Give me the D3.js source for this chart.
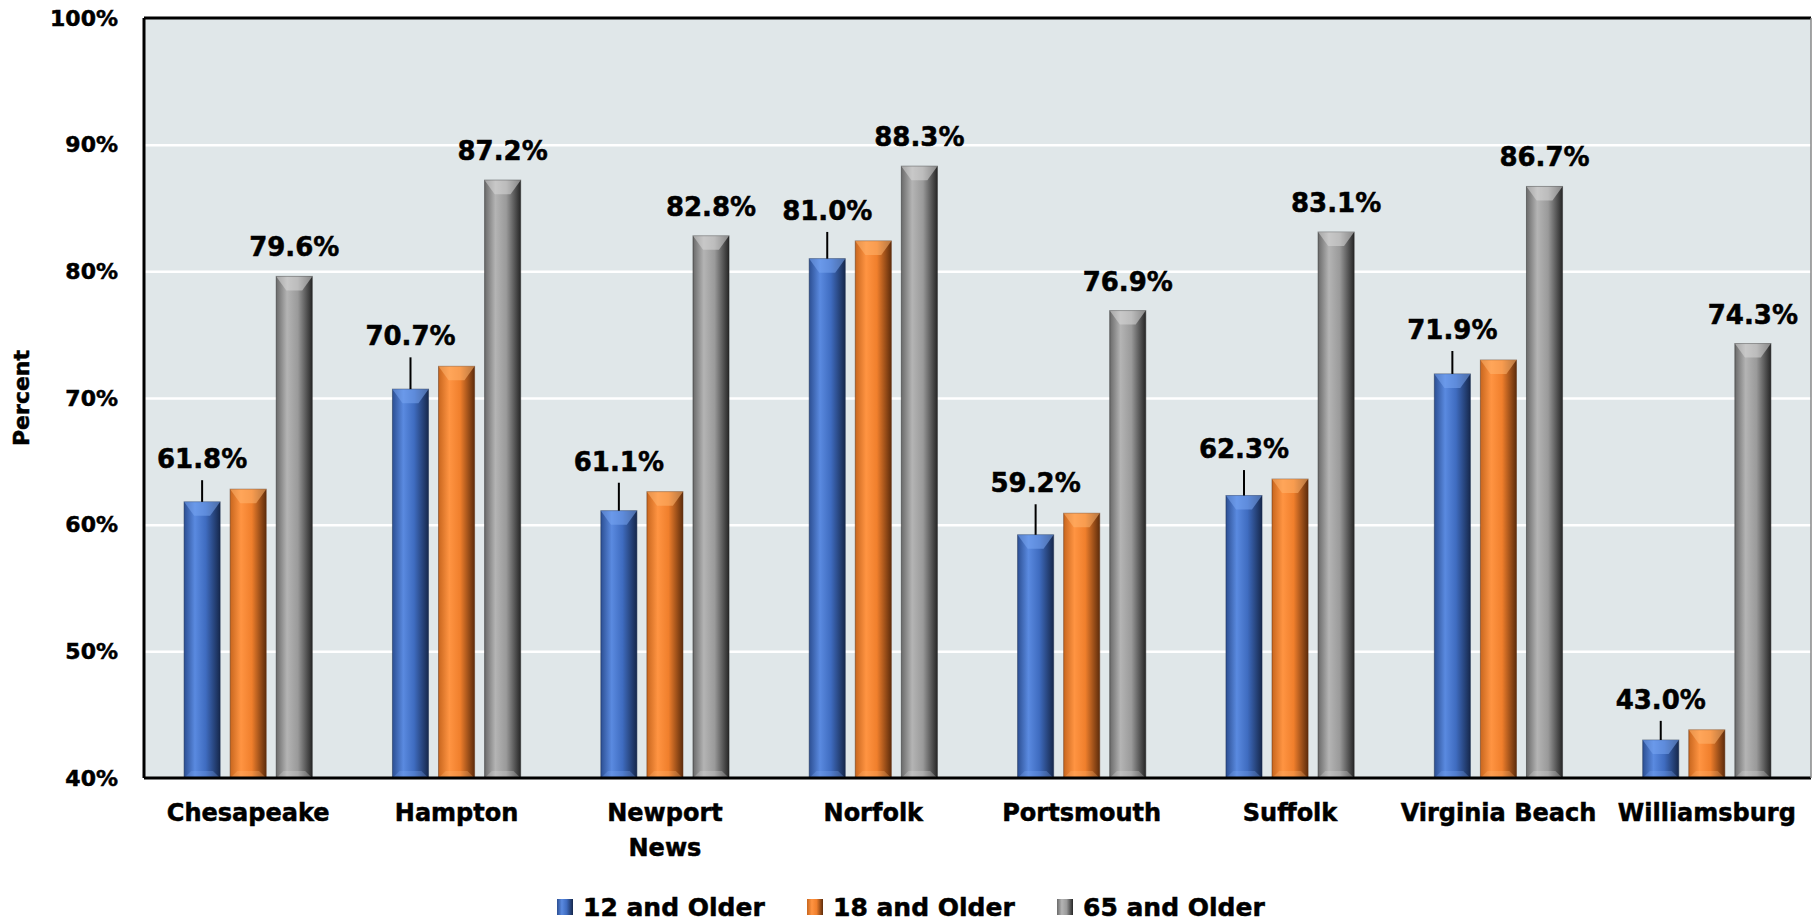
<!DOCTYPE html>
<html>
<head>
<meta charset="utf-8">
<script src="https://cdn.jsdelivr.net/npm/d3@7"></script>
<style>
  html, body { margin: 0; padding: 0; background: #fff; }
  svg { display: block; font-family: 'DejaVu Sans', sans-serif; font-weight: bold; }
  svg text { stroke: #000; stroke-width: 0.5px; }
</style>
</head>
<body>
<svg id="chart" width="1813" height="922"></svg>
<script>
const categories = ['Chesapeake', 'Hampton', 'Newport News', 'Norfolk', 'Portsmouth', 'Suffolk', 'Virginia Beach', 'Williamsburg'];
const tickLabels = [['Chesapeake'], ['Hampton'], ['Newport', 'News'], ['Norfolk'], ['Portsmouth'], ['Suffolk'], ['Virginia Beach'], ['Williamsburg']];
const seriesNames = ['12 and Older', '18 and Older', '65 and Older'];
const age12 = [61.8, 70.7, 61.1, 81.0, 59.2, 62.3, 71.9, 43.0];
const age18 = [62.8, 72.5, 62.6, 82.4, 60.9, 63.6, 73.0, 43.8];
const age65 = [79.6, 87.2, 82.8, 88.3, 76.9, 83.1, 86.7, 74.3];
const yTicks = [40, 50, 60, 70, 80, 90, 100];

const svgWidth = 1813;
const svgHeight = 922;
const margin = { top: 18, left: 144, right: 2, bottom: 144 };
const width = svgWidth - margin.left - margin.right;
const height = svgHeight - margin.top - margin.bottom;

// colours per series: edge, light, mid, dark
const palette = [
  { edge: '#2c4f93', light: '#5a8ae0', mid: '#3f6cc0', dark: '#16284c', top: '#79a6f2' },
  { edge: '#c8661e', light: '#ff9442', mid: '#f07f2c', dark: '#5e2c0b', top: '#ffb46e' },
  { edge: '#6a6a6a', light: '#b4b4b4', mid: '#9a9a9a', dark: '#262626', top: '#d8d8d8' },
];

const svg = d3.select('#chart');
const defs = svg.append('defs');

palette.forEach((p, i) => {
  const grad = defs.append('linearGradient')
      .attr('id', `grad${i}`)
      .attr('x1', '0%').attr('x2', '100%')
      .attr('y1', '0%').attr('y2', '0%');
  grad.append('stop').attr('offset', '0%').attr('stop-color', p.edge);
  grad.append('stop').attr('offset', '30%').attr('stop-color', p.light);
  grad.append('stop').attr('offset', '60%').attr('stop-color', p.mid);
  grad.append('stop').attr('offset', '100%').attr('stop-color', p.dark);
});

const g = svg.append('g').attr('transform', `translate(${margin.left},${margin.top})`);

const x0 = d3.scaleBand().domain(categories).range([0, width]).padding(0);
const x1 = d3.scaleBand().domain(seriesNames).range([0, x0.bandwidth()])
    .paddingInner(0.217).paddingOuter(0.87);
const y = d3.scaleLinear().domain([40, 100]).range([height, 0]);

// plot background
g.append('rect')
    .attr('width', width)
    .attr('height', height)
    .attr('fill', '#e0e7e9');

// gridlines
g.append('g')
    .call(d3.axisLeft(y).tickValues(yTicks.slice(1, -1)).tickSize(-width).tickFormat(''))
    .call(s => s.select('.domain').remove())
    .selectAll('line')
      .attr('stroke', '#ffffff')
      .attr('stroke-width', 2.5);

// y axis labels
g.append('g')
    .call(d3.axisLeft(y).tickValues(yTicks).tickSize(0).tickPadding(26).tickFormat(d => d + '%'))
    .call(s => s.select('.domain').remove())
    .selectAll('text')
      .attr('fill', '#000')
      .attr('font-size', 22)
      .attr('font-family', 'DejaVu Sans')
      .attr('font-weight', 'bold');

// bars
const seriesValues = [age12, age18, age65];
const rows = [];
categories.forEach((c, ci) => {
  seriesNames.forEach((s, si) => {
    rows.push({ cat: c, series: s, si, value: seriesValues[si][ci] });
  });
});

const bw = x1.bandwidth();
const bars = g.append('g').selectAll('g.bar')
  .data(rows)
  .join('g')
    .attr('class', 'bar')
    .attr('transform', d => `translate(${x0(d.cat) + x1(d.series)},0)`);

bars.append('rect')
    .attr('y', d => y(d.value))
    .attr('width', bw)
    .attr('height', d => height - y(d.value))
    .attr('fill', d => `url(#grad${d.si})`)
    .attr('stroke', d => palette[d.si].dark)
    .attr('stroke-opacity', 0.5)
    .attr('stroke-width', 1);

// top bevel
bars.append('path')
    .attr('d', d => {
      const t = y(d.value);
      const h = Math.min(14, (height - t) / 2);
      return `M0,${t} L${bw},${t} L${bw * 0.72},${t + h} L${bw * 0.28},${t + h} Z`;
    })
    .attr('fill', d => palette[d.si].top)
    .attr('opacity', 0.55);

// bottom bevel
bars.append('path')
    .attr('d', () => `M0,${height} L${bw},${height} L${bw * 0.8},${height - 7} L${bw * 0.2},${height - 7} Z`)
    .attr('fill', d => palette[d.si].top)
    .attr('opacity', 0.3);

// data labels: 12 and older with leader, 65 and older plain
const labelFont = 26;
categories.forEach((c, ci) => {
  const bx = x0(c) + x1(seriesNames[0]) + bw / 2;
  const base = y(Math.max(age12[ci], age18[ci])) - 21;
  g.append('line')
      .attr('x1', bx).attr('x2', bx)
      .attr('y1', base + 12)
      .attr('y2', y(age12[ci]))
      .attr('stroke', '#000')
      .attr('stroke-width', 2);
  g.append('text')
      .attr('x', bx)
      .attr('y', base)
      .attr('text-anchor', 'middle')
      .attr('font-size', labelFont)
      .text(age12[ci].toFixed(1) + '%');

  const gx = x0(c) + x1(seriesNames[2]) + bw / 2;
  g.append('text')
      .attr('x', gx)
      .attr('y', y(age65[ci]) - 20)
      .attr('text-anchor', 'middle')
      .attr('font-size', labelFont)
      .text(age65[ci].toFixed(1) + '%');
});

// frame
g.append('line').attr('x1', 0).attr('x2', width).attr('y1', 0).attr('y2', 0)
    .attr('stroke', '#000').attr('stroke-width', 3);
g.append('line').attr('x1', 0).attr('x2', 0).attr('y1', 0).attr('y2', height)
    .attr('stroke', '#000').attr('stroke-width', 3);
g.append('line').attr('x1', 0).attr('x2', width).attr('y1', height).attr('y2', height)
    .attr('stroke', '#000').attr('stroke-width', 3);
g.append('line').attr('x1', width).attr('x2', width).attr('y1', 0).attr('y2', height)
    .attr('stroke', '#888').attr('stroke-width', 1.5);

// category labels
const cats = g.append('g').selectAll('text.cat')
  .data(categories)
  .join('text')
    .attr('class', 'cat')
    .attr('x', d => x0(d) + x0.bandwidth() / 2)
    .attr('y', height + 43)
    .attr('text-anchor', 'middle')
    .attr('font-size', 24);
cats.selectAll('tspan')
  .data((d, i) => tickLabels[i])
  .join('tspan')
    .attr('x', function () { return this.parentNode.getAttribute('x'); })
    .attr('dy', (d, i) => i === 0 ? 0 : 35)
    .text(d => d);

// y title
svg.append('text')
    .attr('transform', `translate(29,${margin.top + y(70)}) rotate(-90)`)
    .attr('text-anchor', 'middle')
    .attr('font-size', 22)
    .text('Percent');

// legend
const legend = svg.append('g').attr('transform', 'translate(557,899)');
const items = legend.selectAll('g')
  .data(seriesNames)
  .join('g')
    .attr('transform', (d, i) => `translate(${i * 250},0)`);
items.append('rect')
    .attr('width', 16)
    .attr('height', 16)
    .attr('fill', (d, i) => `url(#grad${i})`);
items.append('text')
    .attr('x', 26)
    .attr('y', 17)
    .attr('font-size', 25)
    .text(d => d);
</script>
</body>
</html>
